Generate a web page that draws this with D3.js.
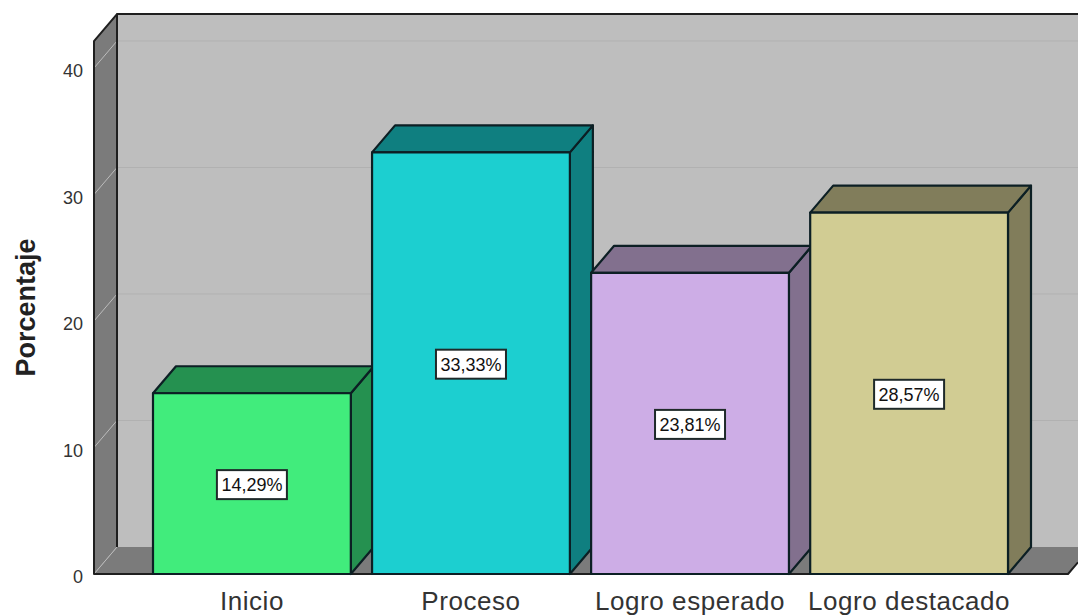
<!DOCTYPE html>
<html>
<head>
<meta charset="utf-8">
<script src="https://cdn.jsdelivr.net/npm/d3@7"></script>
<style>
html,body{margin:0;padding:0;background:#fff;overflow:hidden}
svg{display:block}
text{font-family:"Liberation Sans",Arial,sans-serif}
</style>
</head>
<body>
<svg id="chart" width="1078" height="616"></svg>
<script>
const categories = ["Inicio", "Proceso", "Logro esperado", "Logro destacado"];
const percentages = [14.29, 33.33, 23.81, 28.57];
const valueLabels = ["14,29%", "33,33%", "23,81%", "28,57%"];
const frontColors = ["#41ec7c", "#1ccfd0", "#cdade6", "#d1cc93"];
const sideColors = ["#259150", "#0f7f80", "#82708e", "#817d5b"];
const yTicks = [0, 10, 20, 30, 40];

const svg = d3.select("#chart");
const depthX = 23, depthY = 27;
const baseY = 574, wallTopValue = 42.13;

const y = d3.scaleLinear().domain([0, 40]).range([baseY, 68]);
const x = d3.scaleBand().domain(categories).range([153, 1008]).paddingInner(0.097).paddingOuter(0);

const poly = (pts, fill, stroke, sw) => svg.append("path")
  .attr("d", d3.line()(pts) + "Z")
  .attr("fill", fill)
  .attr("stroke", stroke || "none")
  .attr("stroke-width", sw || 0)
  .attr("stroke-linejoin", "round");

const wallLeft = 94, backLeft = wallLeft + depthX, floorRight = 1068, wallTop = y(wallTopValue);

// Back wall, side wall and floor of the 3-D box
poly([[backLeft, wallTop - depthY], [1090, wallTop - depthY], [1090, baseY - depthY], [backLeft, baseY - depthY]], "#bebebe");
poly([[wallLeft, wallTop], [backLeft, wallTop - depthY], [backLeft, baseY - depthY], [wallLeft, baseY]], "#7b7b7b");
poly([[wallLeft, baseY], [backLeft, baseY - depthY], [floorRight + depthX, baseY - depthY], [floorRight, baseY]], "#7b7b7b");

// Gridlines on the back wall, continued diagonally down the side wall
yTicks.filter(d => d > 0).forEach(d => {
  svg.append("line").attr("x1", backLeft).attr("x2", 1078)
    .attr("y1", y(d) - depthY).attr("y2", y(d) - depthY)
    .attr("stroke", "#b1b1b1").attr("stroke-width", 1);
  svg.append("line").attr("x1", wallLeft).attr("x2", backLeft)
    .attr("y1", y(d)).attr("y2", y(d) - depthY)
    .attr("stroke", "#bcbcbc").attr("stroke-width", 1);
});
svg.append("line").attr("x1", wallLeft).attr("x2", backLeft)
  .attr("y1", baseY).attr("y2", baseY - depthY).attr("stroke", "#bcbcbc");

// Box outline: top and left of the back wall, then the front edges
const edge = "#1f1f1f";
svg.append("path").attr("fill", "none").attr("stroke", edge).attr("stroke-width", 2)
  .attr("stroke-linejoin", "round")
  .attr("d", d3.line()([[1078, wallTop - depthY], [backLeft, wallTop - depthY], [backLeft, baseY - depthY]]));
svg.append("path").attr("fill", "none").attr("stroke", edge).attr("stroke-width", 2)
  .attr("stroke-linejoin", "round")
  .attr("d", d3.line()([[backLeft, wallTop - depthY], [wallLeft, wallTop], [wallLeft, baseY], [floorRight, baseY], [1078, baseY - 11.7]]));

// Bars: side and top faces first, then the front face
categories.forEach((c, i) => {
  const v = percentages[i];
  const x0 = x(c), x1 = x0 + x.bandwidth(), yt = y(v);
  const stroke = "#0c1f24";
  poly([[x1, yt], [x1 + depthX, yt - depthY], [x1 + depthX, baseY - depthY], [x1, baseY]], sideColors[i], stroke, 2.2);
  poly([[x0, yt], [x0 + depthX, yt - depthY], [x1 + depthX, yt - depthY], [x1, yt]], sideColors[i], stroke, 2.2);
  poly([[x0, yt], [x1, yt], [x1, baseY], [x0, baseY]], frontColors[i], stroke, 2.2);

  // Value label centred on the front face
  const cx = (x0 + x1) / 2, cy = (yt + baseY) / 2 + 1;
  svg.append("rect").attr("x", cx - 35).attr("y", cy - 14.5).attr("width", 70).attr("height", 29)
    .attr("fill", "#fff").attr("stroke", "#1f2a2a").attr("stroke-width", 2);
  svg.append("text").attr("x", cx).attr("y", cy + 6.5).attr("text-anchor", "middle")
    .attr("font-size", 18).attr("fill", "#111").text(valueLabels[i]);

  svg.append("text").attr("x", cx).attr("y", 610).attr("text-anchor", "middle")
    .attr("font-size", 26).attr("letter-spacing", 0.55).attr("fill", "#333").text(c);
});

// Value axis labels and title
const axis = d3.axisLeft(y).tickValues(yTicks).tickSize(0).tickPadding(11);
const g = svg.append("g").attr("transform", `translate(${wallLeft},3)`).call(axis);
g.select(".domain").remove();
g.selectAll("text").attr("font-size", 18).attr("fill", "#333").attr("font-family", '"Liberation Sans",Arial,sans-serif');

svg.append("text").attr("transform", "translate(35,307.5) rotate(-90)")
  .attr("text-anchor", "middle").attr("font-size", 27).attr("font-weight", "bold").attr("fill", "#222")
  .text("Porcentaje");
</script>
</body>
</html>
